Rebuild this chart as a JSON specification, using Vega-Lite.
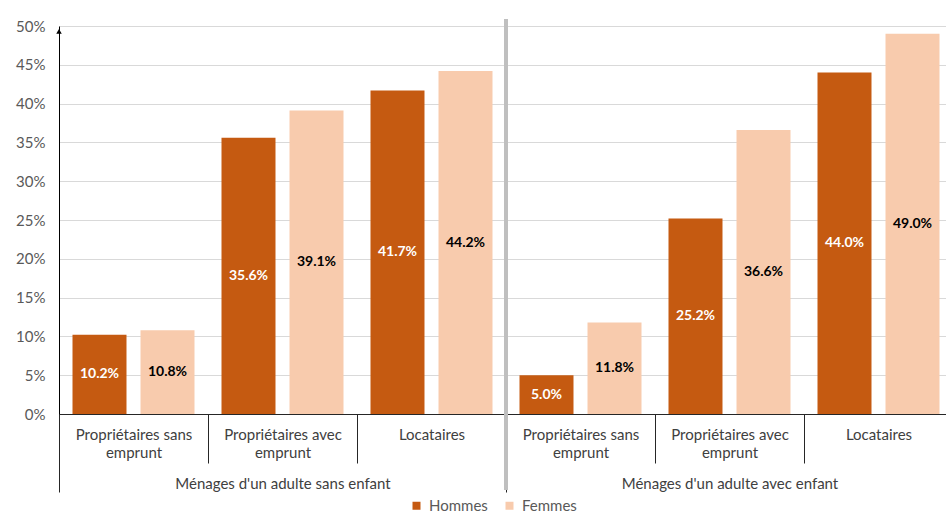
{
  "$schema": "https://vega.github.io/schema/vega-lite/v6.json",
  "width": 894,
  "height": 388,
  "autosize": {"type": "none"},
  "padding": {"left": 59, "top": 26, "right": 0, "bottom": 100},
  "background": "white",
  "config": {
    "view": {"stroke": null},
    "font": "Lato",
    "axisY": {
      "title": null,
      "format": ".0%",
      "values": [0, 0.05, 0.1, 0.15, 0.2, 0.25, 0.3, 0.35, 0.4, 0.45, 0.5],
      "grid": true,
      "gridColor": "#d9d9d9",
      "domainColor": "black",
      "ticks": false,
      "labelPadding": 14,
      "labelFontSize": 15,
      "labelColor": "#595959"
    }
  },
  "layer": [
    {
      "data": {
        "values": [
          {"cle": "1|Propriétaires sans|emprunt", "groupe": "Ménages d'un adulte sans enfant", "sexe": "Hommes", "valeur": 0.102},
          {"cle": "1|Propriétaires sans|emprunt", "groupe": "Ménages d'un adulte sans enfant", "sexe": "Femmes", "valeur": 0.108},
          {"cle": "2|Propriétaires avec|emprunt", "groupe": "Ménages d'un adulte sans enfant", "sexe": "Hommes", "valeur": 0.356},
          {"cle": "2|Propriétaires avec|emprunt", "groupe": "Ménages d'un adulte sans enfant", "sexe": "Femmes", "valeur": 0.391},
          {"cle": "3|Locataires", "groupe": "Ménages d'un adulte sans enfant", "sexe": "Hommes", "valeur": 0.417},
          {"cle": "3|Locataires", "groupe": "Ménages d'un adulte sans enfant", "sexe": "Femmes", "valeur": 0.442},
          {"cle": "4|Propriétaires sans|emprunt", "groupe": "Ménages d'un adulte avec enfant", "sexe": "Hommes", "valeur": 0.05},
          {"cle": "4|Propriétaires sans|emprunt", "groupe": "Ménages d'un adulte avec enfant", "sexe": "Femmes", "valeur": 0.118},
          {"cle": "5|Propriétaires avec|emprunt", "groupe": "Ménages d'un adulte avec enfant", "sexe": "Hommes", "valeur": 0.252},
          {"cle": "5|Propriétaires avec|emprunt", "groupe": "Ménages d'un adulte avec enfant", "sexe": "Femmes", "valeur": 0.366},
          {"cle": "6|Locataires", "groupe": "Ménages d'un adulte avec enfant", "sexe": "Hommes", "valeur": 0.44},
          {"cle": "6|Locataires", "groupe": "Ménages d'un adulte avec enfant", "sexe": "Femmes", "valeur": 0.49}
        ]
      },
      "encoding": {
        "x": {
          "field": "cle",
          "type": "nominal",
          "scale": {
            "domain": ["1|Propriétaires sans|emprunt", "2|Propriétaires avec|emprunt", "3|Locataires", "4|Propriétaires sans|emprunt", "5|Propriétaires avec|emprunt", "6|Locataires"],
            "paddingInner": 0,
            "paddingOuter": 0
          },
          "axis": {
            "orient": "bottom",
            "title": null,
            "domainColor": "#262626",
            "tickColor": "#262626",
            "tickBand": "extent",
            "tickSize": 49,
            "labelPadding": -36,
            "labelAngle": 0,
            "labelExpr": "slice(split(datum.value, '|'), 1)",
            "labelFontSize": 15,
            "labelLineHeight": 18,
            "labelLimit": 400,
            "labelColor": "#404040"
          }
        },
        "xOffset": {
          "field": "sexe",
          "type": "nominal",
          "scale": {"domain": ["Hommes", "Femmes"], "paddingInner": 0.206, "paddingOuter": 0.1985}
        }
      },
      "layer": [
        {
          "mark": {"type": "bar"},
          "encoding": {
            "y": {
              "field": "valeur",
              "type": "quantitative",
              "scale": {"domain": [0, 0.5], "nice": false}
            },
            "color": {
              "field": "sexe",
              "type": "nominal",
              "scale": {"domain": ["Hommes", "Femmes"], "range": ["#C55A11", "#F8CBAD"]},
              "legend": {
                "orient": "none",
                "legendX": 350,
                "legendY": 472,
                "direction": "horizontal",
                "title": null,
                "symbolType": "square",
                "symbolSize": 64,
                "symbolStrokeWidth": 0,
                "labelFontSize": 15,
                "labelColor": "#595959",
                "columnPadding": 14,
                "labelOffset": 5,
                "padding": 0
              }
            }
          }
        },
        {
          "transform": [{"calculate": "datum.valeur / 2", "as": "milieu"}],
          "mark": {"type": "text", "fontSize": 14, "fontWeight": "bold", "font": "Lato"},
          "encoding": {
            "y": {"field": "milieu", "type": "quantitative"},
            "text": {"field": "valeur", "type": "quantitative", "format": ".1%"},
            "color": {"condition": {"test": "datum.sexe === 'Hommes'", "value": "white"}, "value": "black"}
          }
        }
      ]
    },
    {
      "data": {"values": [{}]},
      "layer": [
        {
          "mark": {"type": "rule", "color": "#bfbfbf", "strokeWidth": 4},
          "encoding": {
            "x": {
              "datum": "Ménages d'un adulte avec enfant",
              "type": "nominal",
              "bandPosition": 0,
              "scale": {"domain": ["Ménages d'un adulte sans enfant", "Ménages d'un adulte avec enfant"], "paddingInner": 0, "paddingOuter": 0},
              "axis": {
                "orient": "bottom",
                "title": null,
                "domain": false,
                "tickBand": "extent",
                "tickSize": 78,
                "tickColor": "#262626",
                "labelPadding": -16,
                "labelAngle": 0,
                "labelFontSize": 15,
                "labelLimit": 400,
                "labelColor": "#404040"
              }
            },
            "y": {"datum": 0.509, "type": "quantitative"},
            "y2": {"datum": -0.098}
          }
        },
        {
          "mark": {"type": "point", "shape": "triangle-up", "filled": true, "color": "black", "size": 30, "opacity": 1},
          "encoding": {
            "x": {"datum": "Ménages d'un adulte sans enfant", "type": "nominal", "bandPosition": 0, "axis": {"title": null}},
            "y": {"datum": 0.493, "type": "quantitative"}
          }
        }
      ]
    }
  ],
  "resolve": {"scale": {"x": "independent"}, "axis": {"x": "independent"}}
}
